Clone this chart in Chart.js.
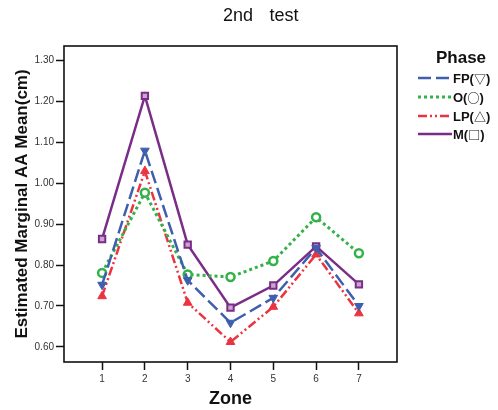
<!DOCTYPE html>
<html>
<head>
<meta charset="utf-8">
<script src="https://cdn.jsdelivr.net/npm/chart.js@4.4.1/dist/chart.umd.min.js"></script>
<style>
  html, body { margin: 0; padding: 0; background: #fff; }
  #wrap { width: 498px; height: 410px; position: relative; }
</style>
</head>
<body>
<div id="wrap"><canvas id="out"></canvas></div>
<script>
// zones 1..7 and the estimated marginal means
const zones = [1, 2, 3, 4, 5, 6, 7];
const fpMeans = [0.752, 1.080, 0.763, 0.659, 0.720, 0.842, 0.700];
const oMeans  = [0.781, 0.977, 0.777, 0.771, 0.810, 0.917, 0.829];
const lpMeans = [0.724, 1.030, 0.708, 0.612, 0.698, 0.826, 0.682];
const mMeans  = [0.864, 1.214, 0.850, 0.696, 0.750, 0.846, 0.753];
const yTicks = [0.60, 0.70, 0.80, 0.90, 1.00, 1.10, 1.20, 1.30];
const seriesNames = ["FP", "O", "LP", "M"];
const seriesSymbols = ["\u25BD", "\u25CB", "\u25B3", "\u25A1"];

const FONT = "'Liberation Sans', Arial, sans-serif";
const SYMFONT = "'Noto Sans CJK KR', 'DejaVu Sans', sans-serif";

function pts(arr) {
  return zones.map((z, i) => ({ x: z, y: arr[i] }));
}

const blue = "#3d5fae";
const green = "#33b24a";
const red = "#ec3340";
const purple = "#7a2d87";

const datasets = [
  {
    label: seriesNames[0], data: pts(fpMeans),
    borderColor: blue, backgroundColor: blue, borderWidth: 2.5,
    borderDash: [13, 5], pointStyle: "triangle", rotation: 180,
    pointRadius: 5, pointBorderWidth: 1
  },
  {
    label: seriesNames[1], data: pts(oMeans),
    borderColor: green, backgroundColor: "#ffffff", borderWidth: 3,
    borderDash: [3, 3], pointStyle: "circle",
    pointRadius: 4, pointBorderWidth: 2.5, pointBorderColor: green
  },
  {
    label: seriesNames[2], data: pts(lpMeans),
    borderColor: red, backgroundColor: red, borderWidth: 2.5,
    borderDash: [9, 3, 2, 3, 2, 3], pointStyle: "triangle",
    pointRadius: 5, pointBorderWidth: 1
  },
  {
    label: seriesNames[3], data: pts(mMeans),
    borderColor: purple, backgroundColor: "#c9a6cf", borderWidth: 2.5,
    pointStyle: "rect", pointRadius: 4.5, pointBorderWidth: 2, pointBorderColor: purple
  }
];

// box, title, legend drawn by hand
const extras = {
  id: "extras",
  afterDraw(chart) {
    const ctx = chart.ctx;
    const a = chart.chartArea;
    ctx.save();
    ctx.strokeStyle = "#111";
    ctx.lineWidth = 1.6;
    ctx.strokeRect(a.left, a.top, a.right - a.left, a.bottom - a.top);

    ctx.fillStyle = "#111";
    ctx.font = "18px " + FONT;
    ctx.textAlign = "center";
    ctx.textBaseline = "middle";
    ctx.fillText("2nd", 238, 16);
    ctx.fillText("test", 284, 16);

    ctx.font = "bold 17px " + FONT;
    ctx.fillText("Phase", 461, 58);

    ctx.textAlign = "left";
    const rowY = [78, 97, 116, 134];
    datasets.forEach((ds, i) => {
      const y = rowY[i];
      ctx.beginPath();
      ctx.setLineDash(ds.borderDash || []);
      ctx.strokeStyle = ds.borderColor;
      ctx.lineWidth = ds.borderWidth;
      ctx.moveTo(418, y);
      ctx.lineTo(452, y);
      ctx.stroke();
      ctx.setLineDash([]);
      ctx.fillStyle = "#111";
      let x = 453;
      ctx.font = "bold 13px " + FONT;
      ctx.fillText(ds.label + "(", x, y + 1);
      x += ctx.measureText(ds.label + "(").width;
      ctx.font = "bold 12px " + SYMFONT;
      ctx.fillText(seriesSymbols[i], x, y + 1);
      x += ctx.measureText(seriesSymbols[i]).width;
      ctx.font = "bold 13px " + FONT;
      ctx.fillText(")", x, y + 1);
    });
    ctx.restore();
  }
};

new Chart(document.getElementById("out"), {
  type: "line",
  data: { datasets: datasets },
  options: {
    responsive: true,
    maintainAspectRatio: false,
    animation: false,
    layout: { padding: { left: 0, top: 46, right: 101, bottom: 0 } },
    plugins: { legend: { display: false }, tooltip: { enabled: false } },
    scales: {
      x: {
        type: "linear",
        min: 0.11, max: 7.89,
        afterBuildTicks: (s) => { s.ticks = zones.map(v => ({ value: v })); },
        afterFit: (s) => { s.height = 48; },
        grid: { drawOnChartArea: false, drawTicks: true, tickLength: 8, tickColor: "#111", tickWidth: 1.5 },
        border: { display: false },
        ticks: { color: "#333", font: { family: FONT, size: 10 }, padding: 3, maxRotation: 0 },
        title: { display: true, text: "Zone", color: "#111",
          font: { family: FONT, size: 18, weight: "bold" }, padding: { top: 2, bottom: 0 } }
      },
      y: {
        type: "linear",
        min: 0.563, max: 1.336,
        afterBuildTicks: (s) => { s.ticks = yTicks.map(v => ({ value: v })); },
        afterFit: (s) => { s.width = 64; },
        grid: { drawOnChartArea: false, drawTicks: true, tickLength: 8, tickColor: "#111", tickWidth: 1.5 },
        border: { display: false },
        ticks: { color: "#333", font: { family: FONT, size: 10 }, padding: 2,
          callback: (v) => Number(v).toFixed(2) },
        title: { display: true, text: "Estimated Marginal AA Mean(cm)", color: "#111",
          font: { family: FONT, size: 17, weight: "bold" }, padding: { top: 12, bottom: 0 } }
      }
    }
  },
  plugins: [extras]
});
</script>
</body>
</html>
